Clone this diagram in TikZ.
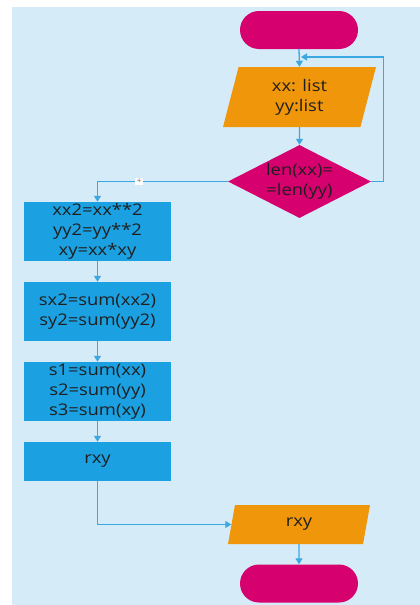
\documentclass[tikz,border=0pt]{standalone}
\usepackage{fontspec}
\setmainfont[FakeStretch=1.15]{Open Sans}
\usetikzlibrary{shapes.geometric,shapes.misc,arrows.meta}
\definecolor{bgblue}{RGB}{214,235,248}
\definecolor{procblue}{RGB}{27,160,225}
\definecolor{termred}{RGB}{214,0,110}
\definecolor{ioorange}{RGB}{240,150,10}
\definecolor{linkblue}{RGB}{60,168,224}
\tikzset{
  x=1pt, y=-1pt,
  txt/.style={font=\fontsize{16}{20}\selectfont, text=black!88, align=center},
  term/.style={rounded rectangle, fill=termred, minimum width=118pt, minimum height=38pt, inner sep=0pt},
  proc/.style={rectangle, fill=procblue, minimum width=147pt, inner sep=0pt, txt},
  io/.style={trapezium, trapezium stretches body, fill=ioorange, inner sep=0pt, txt},
  cond/.style={diamond, fill=termred, shape aspect=1.96, minimum width=143pt, minimum height=73pt, inner sep=-3pt, txt},
  link/.style={draw=linkblue, line width=1.3pt, -{Triangle[width=7pt,length=6pt]}},
}
\begin{document}
\begin{tikzpicture}
\useasboundingbox (0,0) rectangle (420,605);
\fill[bgblue] (12,7) rectangle (420,605);

\node[term] (start) at (299,30) {};
\node[io, trapezium left angle=66.6, trapezium right angle=113.4,
      minimum width=153pt, minimum height=60pt] (in) at (299.5,97) {xx: list\\yy:list};
\node[cond] (d) at (299.5,181.5) {len(xx)=\\=len(yy)};
\node[proc, minimum height=59pt] (b1) at (97.5,231.5) {xx2=xx**2\\yy2=yy**2\\xy=xx*xy};
\node[proc, minimum height=59pt] (b2) at (97.5,311.5) {sx2=sum(xx2)\\sy2=sum(yy2)};
\node[proc, minimum height=59pt] (b3) at (97.5,391.5) {s1=sum(xx)\\s2=sum(yy)\\s3=sum(xy)};
\node[proc, minimum height=39pt] (b4) at (97.5,461.5) {rxy};
\node[io, trapezium left angle=61, trapezium right angle=119,
      minimum width=142pt, minimum height=39pt] (out) at (299,524.5) {rxy};
\node[term] (stop) at (299,583.5) {};

\coordinate (back) at (301,57);

\draw[link] (start.south) -- (in.north);
\draw[link] (in.south) -- (d.north);
\draw[link] (d.east) -- ++(12,0) |- (back);
\draw[link] (d.west) -| (b1.north)
  node[pos=0.34, fill=white, inner sep=1.5pt, font=\fontsize{8}{8}\selectfont, text=black!55] (plus) {+};
\draw[link] (b1.south) -- (b2.north);
\draw[link] (b2.south) -- (b3.north);
\draw[link] (b3.south) -- (b4.north);
\draw[link] (b4.south) |- (out.west);
\draw[link] (out.south) -- (stop.north);
\end{tikzpicture}
\end{document}
